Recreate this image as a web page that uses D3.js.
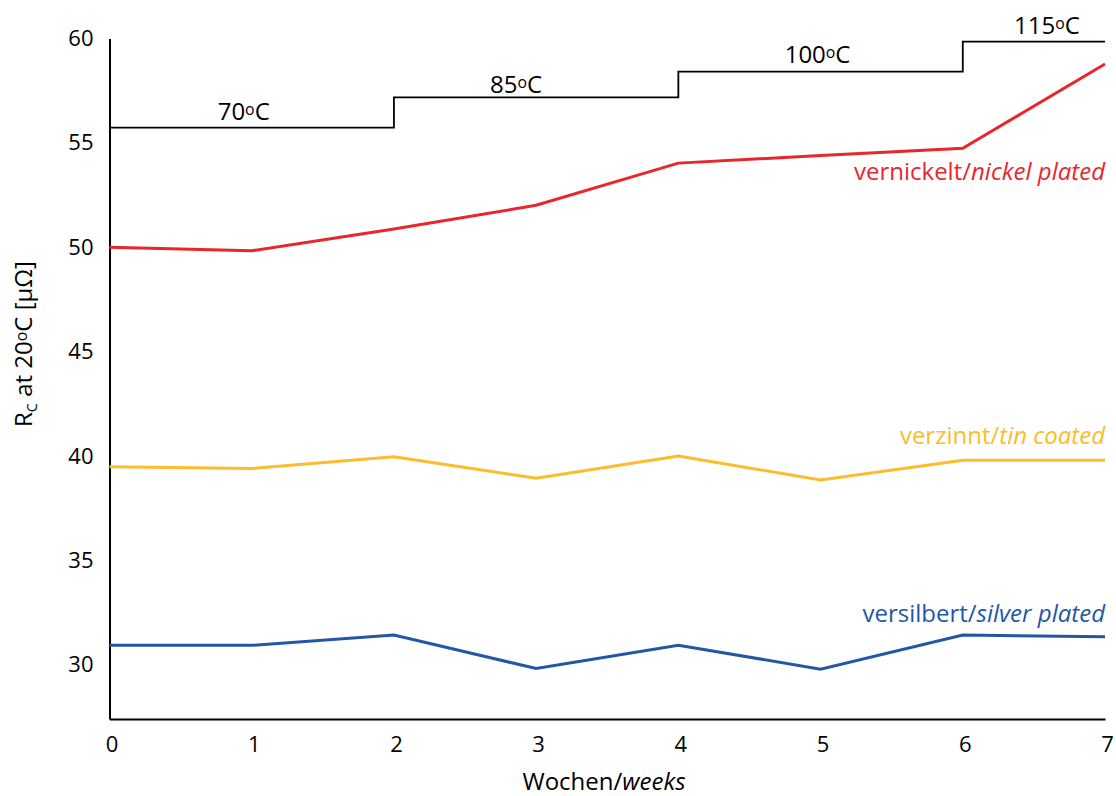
<!DOCTYPE html>
<html>
<head>
<meta charset="utf-8">
<script src="https://cdn.jsdelivr.net/npm/d3@7"></script>
<style>
  body { margin: 0; background: #fff; }
  svg text { font-family: "Open Sans", Lato, sans-serif; }
</style>
</head>
<body>
<svg id="chart" width="1116" height="796"></svg>
<script>
// ---- data ----
const weeks = [0, 1, 2, 3, 4, 5, 6, 7];
const nickel = [50.0, 49.83, 50.87, 52.01, 54.03, 54.39, 54.74, 58.78];
const tin    = [39.48, 39.40, 39.96, 38.94, 40.0, 38.85, 39.8, 39.8];
const silver = [30.93, 30.93, 31.42, 29.82, 30.93, 29.79, 31.42, 31.34];
const tempStepWeeks = [0, 2, 4, 6, 7];
const tempLevels = [55.73, 57.18, 58.41, 59.85];
const tempLabels = ["70", "85", "100", "115"];
const yTicks = [30, 35, 40, 45, 50, 55, 60];
const xTicks = [0, 1, 2, 3, 4, 5, 6, 7];
const seriesNames = [
  ["vernickelt/", "nickel plated"],
  ["verzinnt/", "tin coated"],
  ["versilbert/", "silver plated"]
];

// ---- layout ----
const svg = d3.select("#chart");
const x = d3.scaleLinear().domain([0, 7]).range([109.5, 1105]);
const y = d3.scaleLinear().domain([27.4, 60]).range([719, 38.5]);
const colors = ["#e8262b", "#fbbd2c", "#2456a6"];
const fsTick = 22;
const fs = 24;
const ff = "'Open Sans', Lato, sans-serif";

// axes
const yAxis = d3.axisLeft(y).tickValues(yTicks).tickFormat(d3.format("d")).tickSize(0).tickPadding(16);
const gy = svg.append("g").attr("transform", `translate(${x(0)},0)`).call(yAxis);
gy.select(".domain").attr("stroke", "#000").attr("stroke-width", 2);
gy.selectAll("text").attr("font-size", fsTick).attr("fill", "#000").attr("font-family", ff);

const xAxis = d3.axisBottom(x).tickValues(xTicks).tickFormat(d3.format("d")).tickSize(0).tickPadding(17);
const gx = svg.append("g").attr("transform", `translate(0,${y(27.4)})`).call(xAxis);
gx.select(".domain").attr("stroke", "#000").attr("stroke-width", 2);
gx.selectAll("text").attr("font-size", fsTick).attr("fill", "#000").attr("font-family", ff)
  .attr("dx", 2);

// temperature step line
const stepPts = tempStepWeeks.map((w, i) => [w, tempLevels[Math.min(i, tempLevels.length - 1)]]);
svg.append("path")
  .attr("d", d3.line().x(d => x(d[0])).y(d => y(d[1])).curve(d3.curveStepAfter)(stepPts))
  .attr("fill", "none").attr("stroke", "#000").attr("stroke-width", 1.8);

const tempDx = [-8, -20, -3, 13];
const tempDy = [-8, -4, -9, -8];
tempLabels.forEach((t, i) => {
  const mid = (tempStepWeeks[i] + tempStepWeeks[i + 1]) / 2;
  const txt = svg.append("text")
    .attr("x", x(mid) + tempDx[i])
    .attr("y", y(tempLevels[i]) + tempDy[i])
    .attr("text-anchor", "middle")
    .attr("font-size", fs).attr("fill", "#000");
  txt.append("tspan").text(t);
  txt.append("tspan").text("o").attr("font-size", fs * 0.66).attr("dy", -5);
  txt.append("tspan").text("C").attr("dy", 5);
});

// series lines
const line = d3.line().x((d, i) => x(weeks[i])).y(d => y(d));
[nickel, tin, silver].forEach((s, i) => {
  svg.append("path").attr("d", line(s))
    .attr("fill", "none").attr("stroke", colors[i]).attr("stroke-width", 3)
    .attr("stroke-linejoin", "miter");
});

// series labels
const labelY = [180, 444, 622];
seriesNames.forEach((n, i) => {
  const t = svg.append("text").attr("x", x(7)).attr("y", labelY[i])
    .attr("text-anchor", "end").attr("font-size", fs).attr("fill", colors[i]);
  t.append("tspan").text(n[0]);
  t.append("tspan").text(n[1]).attr("font-style", "italic");
});

// axis titles
const xt = svg.append("text").attr("x", 604).attr("y", 790)
  .attr("text-anchor", "middle").attr("font-size", fs).attr("fill", "#000");
xt.append("tspan").text("Wochen/");
xt.append("tspan").text("weeks").attr("font-style", "italic");

const yt = svg.append("text")
  .attr("transform", "translate(32,344) rotate(-90)")
  .attr("text-anchor", "middle").attr("font-size", fs).attr("fill", "#000");
yt.append("tspan").text("R");
yt.append("tspan").text("C").attr("font-size", fs * 0.6).attr("dy", 5);
yt.append("tspan").text(" at 20").attr("dy", -5);
yt.append("tspan").text("o").attr("font-size", fs * 0.66).attr("dy", -5);
yt.append("tspan").text("C [μΩ]").attr("dy", 5);
</script>
</body>
</html>
